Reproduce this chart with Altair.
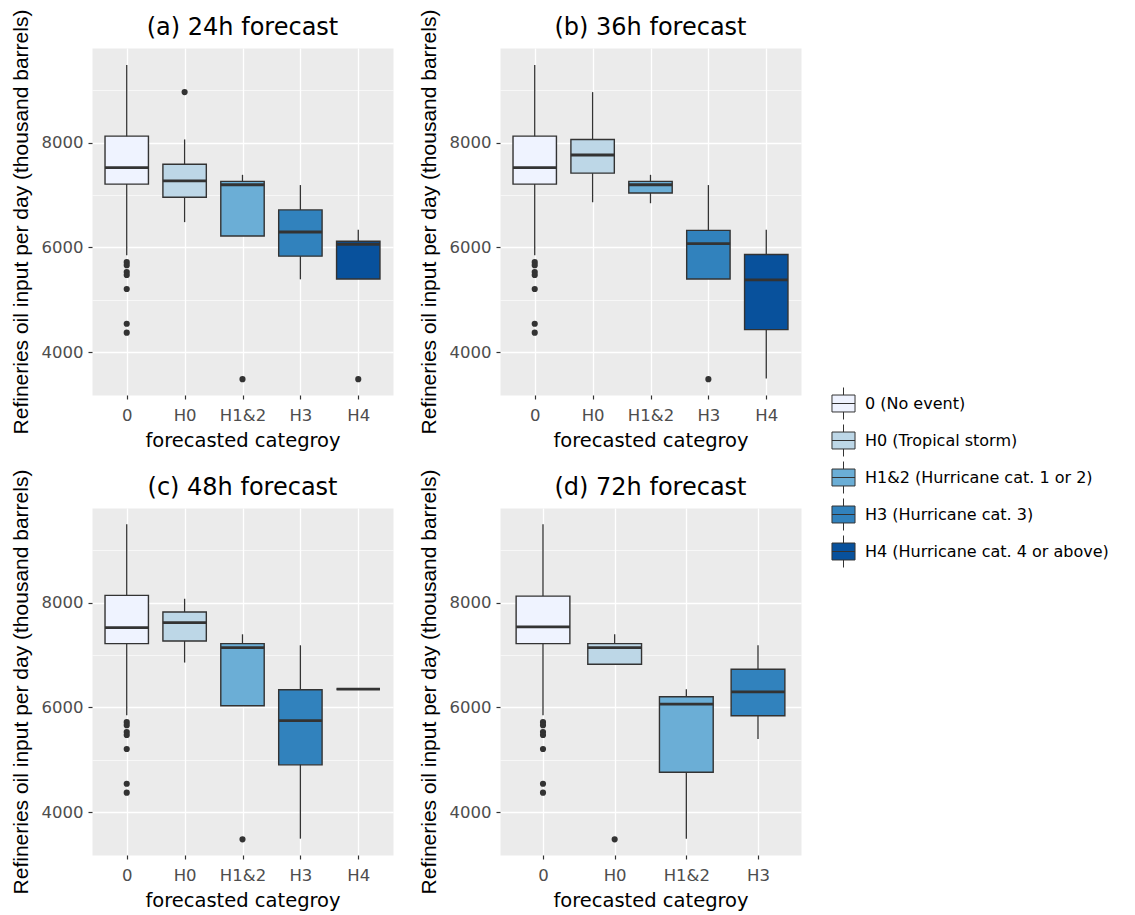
import altair as alt
import pandas as pd

categories = ["0", "H0", "H1&2", "H3", "H4"]
legend_labels = [
    "0 (No event)",
    "H0 (Tropical storm)",
    "H1&2 (Hurricane cat. 1 or 2)",
    "H3 (Hurricane cat. 3)",
    "H4 (Hurricane cat. 4 or above)",
]
blues = ["#EFF3FF", "#BDD7E7", "#6BAED6", "#3182BD", "#08519C"]

panel_titles = ["(a) 24h forecast", "(b) 36h forecast", "(c) 48h forecast", "(d) 72h forecast"]

# outliers of the "0" category (same in every panel)
zero_outliers = [5718, 5661, 5529, 5472, 5206, 4542, 4371]

# (a) 24h
a_cats = ["0", "H0", "H1&2", "H3", "H4"]
a_low = [5851, 6483, 6218, 5390, 5397]
a_q1 = [7210, 6957, 6218, 5833, 5397]
a_med = [7526, 7273, 7197, 6294, 6060]
a_q3 = [8126, 7589, 7261, 6717, 6117]
a_high = [9485, 8063, 7387, 7191, 6338]
a_out_cat = ["0"] * 7 + ["H0", "H1&2", "H4"]
a_out_val = zero_outliers + [8967, 3482, 3482]

# (b) 36h
b_cats = ["0", "H0", "H1&2", "H3", "H4"]
b_low = [5851, 6863, 6844, 5397, 3494]
b_q1 = [7210, 7419, 7040, 5397, 4430]
b_med = [7526, 7766, 7197, 6073, 5378]
b_q3 = [8126, 8063, 7261, 6325, 5864]
b_high = [9485, 8967, 7387, 7191, 6338]
b_out_cat = ["0"] * 7 + ["H3"]
b_out_val = zero_outliers + [3482]

# (c) 48h
c_cats = ["0", "H0", "H1&2", "H3", "H4"]
c_low = [5851, 6857, 6032, 3492, 6349]
c_q1 = [7219, 7270, 6032, 4902, 6349]
c_med = [7524, 7619, 7143, 5746, 6349]
c_q3 = [8140, 7822, 7219, 6337, 6349]
c_high = [9500, 8076, 7397, 7187, 6349]
c_out_cat = ["0"] * 7 + ["H1&2"]
c_out_val = zero_outliers + [3480]

# (d) 72h
d_cats = ["0", "H0", "H1&2", "H3"]
d_low = [5851, 6825, 3492, 5397]
d_q1 = [7219, 6825, 4762, 5841]
d_med = [7537, 7143, 6064, 6298]
d_q3 = [8127, 7219, 6203, 6730]
d_high = [9500, 7397, 6349, 7187]
d_out_cat = ["0"] * 7 + ["H0"]
d_out_val = zero_outliers + [3480]

PW, PH = 301, 347
Y_DOMAIN = [3180, 9810]
INK = "#333333"

legend = alt.Legend(
    title=None,
    orient="none",
    legendX=735,
    legendY=339,
    padding=0,
    rowPadding=0,
    symbolType="M-0.72,-0.53H0.72V0.53H-0.72Z M-0.72,0H0.72 M0,-0.53V-1 M0,0.53V1",
    symbolSize=1024,
    symbolStrokeColor=INK,
    symbolStrokeWidth=1,
    symbolOpacity=1,
    labelFont="DejaVu Sans",
    labelFontSize=16,
    labelColor="black",
    labelOffset=5,
    labelLimit=400,
)


def y_enc(field):
    return alt.Y(
        field,
        scale=alt.Scale(domain=Y_DOMAIN, nice=False, zero=False),
        axis=alt.Axis(
            title="Refineries oil input per day (thousand barrels)",
            titleFont="Liberation Sans",
            titleFontSize=21,
            titlePadding=10,
            values=[4000, 5000, 6000, 7000, 8000, 9000],
            labelExpr="datum.value % 2000 === 0 ? datum.label : ''",
            format="d",
            gridWidth={"condition": {"test": "datum.value % 2000 === 0", "value": 1.3}, "value": 0.6},
            tickColor={"condition": {"test": "datum.value % 2000 === 0", "value": INK}, "value": "transparent"},
            labelPadding=5,
        ),
    )


def panel(title, cats, low, q1, med, q3, high, out_cat, out_val):
    n = len(cats)
    box_w = PW * 0.75 / (n - 1 + 1.2)
    df = pd.DataFrame({
        "cat": cats,
        "label": [legend_labels[categories.index(c)] for c in cats],
        "low": low, "q1": q1, "med": med, "q3": q3, "high": high,
    })
    odf = pd.DataFrame({"cat": out_cat, "value": out_val})
    x = alt.X(
        "cat:N",
        sort=cats,
        scale=alt.Scale(type="point", domain=cats, padding=0.6),
        axis=alt.Axis(title="forecasted categroy", labelAngle=0, labelPadding=8, titlePadding=8),
    )
    whisk = alt.Chart(df).mark_rule(color=INK, strokeWidth=1.3).encode(
        x=x, y=y_enc("low:Q"), y2="high:Q"
    )
    box = alt.Chart(df).mark_bar(size=box_w, stroke=INK, strokeWidth=1.4, opacity=1).encode(
        x=x,
        y=y_enc("q1:Q"),
        y2="q3:Q",
        color=alt.Color("label:N", scale=alt.Scale(domain=legend_labels, range=blues), legend=legend),
    )
    medl = alt.Chart(df).mark_tick(size=box_w, thickness=2.8, color=INK, opacity=1).encode(
        x=x, y=y_enc("med:Q")
    )
    pts = alt.Chart(odf).mark_circle(size=38, color=INK, opacity=1).encode(
        x=x, y=y_enc("value:Q")
    )
    return alt.layer(whisk, box, medl, pts).properties(
        width=PW,
        height=PH,
        title=alt.TitleParams(
            title, fontSize=24, font="DejaVu Sans", fontWeight="normal",
            color="black", anchor="middle", frame="group", offset=8, dy=39,
        ),
    )


pa = panel(panel_titles[0], a_cats, a_low, a_q1, a_med, a_q3, a_high, a_out_cat, a_out_val)
pb = panel(panel_titles[1], b_cats, b_low, b_q1, b_med, b_q3, b_high, b_out_cat, b_out_val)
pc = panel(panel_titles[2], c_cats, c_low, c_q1, c_med, c_q3, c_high, c_out_cat, c_out_val)
pd_ = panel(panel_titles[3], d_cats, d_low, d_q1, d_med, d_q3, d_high, d_out_cat, d_out_val)

chart = alt.concat(
    pa, pb, pc, pd_,
    columns=2,
    spacing={"row": 113, "column": 107},
    bounds="flush",
).properties(
    padding={"left": 9, "top": 8, "right": 5, "bottom": 5},
    background="white",
).configure_view(
    fill="#EBEBEB", stroke="transparent"
).configure_axis(
    domain=False,
    grid=True,
    gridColor="white",
    gridWidth=1.3,
    tickColor=INK,
    tickSize=4,
    tickWidth=1.2,
    labelColor="#4D4D4D",
    labelFont="DejaVu Sans",
    labelFontSize=16.5,
    titleFont="DejaVu Sans",
    titleFontSize=19.5,
    titleFontWeight="normal",
    titleColor="black",
)

chart.save("out.html", embed_options={"renderer": "svg", "actions": False})
